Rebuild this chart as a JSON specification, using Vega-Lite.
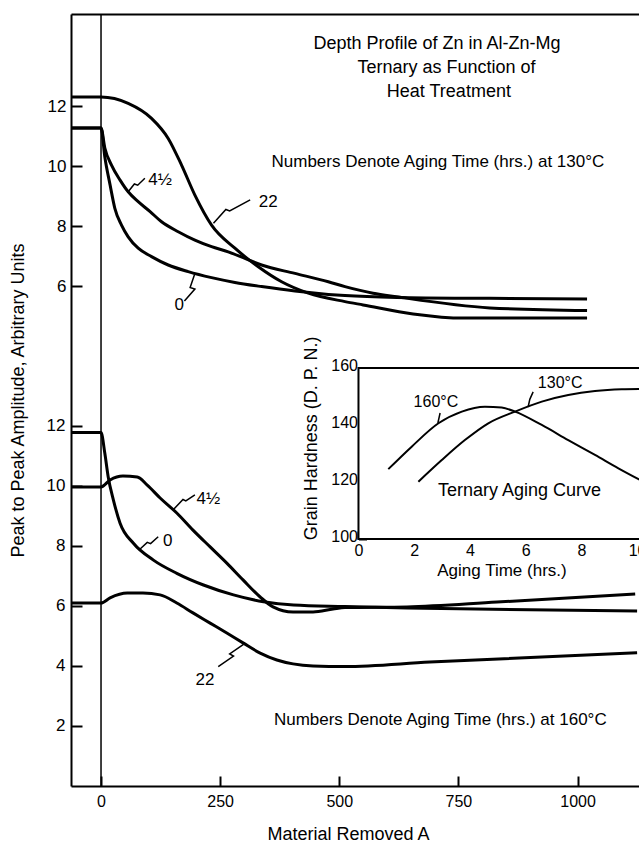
{
  "$schema": "https://vega.github.io/schema/vega-lite/v6.json",
  "width": 568,
  "height": 772,
  "autosize": {"type": "none"},
  "padding": {"left": 71, "top": 14, "right": 0, "bottom": 58},
  "background": "white",
  "config": {
    "font": "Liberation Sans",
    "view": {"stroke": null},
    "axis": {"grid": false, "domainColor": "black", "domainWidth": 2, "tickColor": "black", "tickWidth": 2, "labelColor": "black", "labelFontSize": 16, "titleColor": "black", "titleFontSize": 18, "titleFontWeight": "normal", "labelFlush": false, "labelFont": "Liberation Sans", "titleFont": "Liberation Sans", "format": "d"},
    "text": {"font": "Liberation Sans", "color": "black"}
  },
  "datasets": {
    "lower": [
      {"s": "0", "x": -63, "y": 11.78}, {"s": "0", "x": 0, "y": 11.78}, {"s": "0", "x": 8, "y": 11.09}, {"s": "0", "x": 15, "y": 10.31}, {"s": "0", "x": 26, "y": 9.53}, {"s": "0", "x": 40, "y": 8.76}, {"s": "0", "x": 68, "y": 8.09}, {"s": "0", "x": 110, "y": 7.53}, {"s": "0", "x": 159, "y": 7.09}, {"s": "0", "x": 215, "y": 6.7}, {"s": "0", "x": 278, "y": 6.37}, {"s": "0", "x": 341, "y": 6.14}, {"s": "0", "x": 404, "y": 6.03}, {"s": "0", "x": 512, "y": 5.98}, {"s": "0", "x": 642, "y": 5.93}, {"s": "0", "x": 1125, "y": 5.83},
      {"s": "4.5", "x": -63, "y": 9.97}, {"s": "4.5", "x": 0, "y": 9.97}, {"s": "4.5", "x": 19, "y": 10.2}, {"s": "4.5", "x": 46, "y": 10.33}, {"s": "4.5", "x": 76, "y": 10.3}, {"s": "4.5", "x": 97, "y": 10.03}, {"s": "4.5", "x": 124, "y": 9.6}, {"s": "4.5", "x": 159, "y": 9.1}, {"s": "4.5", "x": 193, "y": 8.53}, {"s": "4.5", "x": 229, "y": 7.97}, {"s": "4.5", "x": 264, "y": 7.43}, {"s": "4.5", "x": 298, "y": 6.87}, {"s": "4.5", "x": 334, "y": 6.3}, {"s": "4.5", "x": 361, "y": 5.97}, {"s": "4.5", "x": 403, "y": 5.8}, {"s": "4.5", "x": 445, "y": 5.8}, {"s": "4.5", "x": 487, "y": 5.9}, {"s": "4.5", "x": 512, "y": 5.95}, {"s": "4.5", "x": 642, "y": 5.97}, {"s": "4.5", "x": 831, "y": 6.13}, {"s": "4.5", "x": 1121, "y": 6.4},
      {"s": "22", "x": -63, "y": 6.1}, {"s": "22", "x": 0, "y": 6.1}, {"s": "22", "x": 19, "y": 6.27}, {"s": "22", "x": 55, "y": 6.43}, {"s": "22", "x": 88, "y": 6.43}, {"s": "22", "x": 124, "y": 6.37}, {"s": "22", "x": 159, "y": 6.1}, {"s": "22", "x": 193, "y": 5.77}, {"s": "22", "x": 229, "y": 5.43}, {"s": "22", "x": 264, "y": 5.1}, {"s": "22", "x": 298, "y": 4.77}, {"s": "22", "x": 334, "y": 4.43}, {"s": "22", "x": 369, "y": 4.2}, {"s": "22", "x": 403, "y": 4.07}, {"s": "22", "x": 445, "y": 4.0}, {"s": "22", "x": 512, "y": 3.98}, {"s": "22", "x": 690, "y": 4.13}, {"s": "22", "x": 1125, "y": 4.44}
    ],
    "upper": [
      {"s": "22", "x": -63, "y": 12.3}, {"s": "22", "x": 0, "y": 12.3}, {"s": "22", "x": 57, "y": 12.09}, {"s": "22", "x": 106, "y": 11.59}, {"s": "22", "x": 141, "y": 10.92}, {"s": "22", "x": 169, "y": 10.03}, {"s": "22", "x": 197, "y": 9.03}, {"s": "22", "x": 232, "y": 8.03}, {"s": "22", "x": 281, "y": 7.26}, {"s": "22", "x": 330, "y": 6.64}, {"s": "22", "x": 379, "y": 6.14}, {"s": "22", "x": 435, "y": 5.76}, {"s": "22", "x": 512, "y": 5.48}, {"s": "22", "x": 550, "y": 5.37}, {"s": "22", "x": 655, "y": 5.07}, {"s": "22", "x": 760, "y": 4.93}, {"s": "22", "x": 1020, "y": 4.93},
      {"s": "4.5", "x": -63, "y": 11.27}, {"s": "4.5", "x": 0, "y": 11.27}, {"s": "4.5", "x": 8, "y": 10.6}, {"s": "4.5", "x": 22, "y": 10.03}, {"s": "4.5", "x": 40, "y": 9.53}, {"s": "4.5", "x": 57, "y": 9.14}, {"s": "4.5", "x": 78, "y": 8.81}, {"s": "4.5", "x": 103, "y": 8.48}, {"s": "4.5", "x": 127, "y": 8.14}, {"s": "4.5", "x": 162, "y": 7.81}, {"s": "4.5", "x": 197, "y": 7.53}, {"s": "4.5", "x": 232, "y": 7.31}, {"s": "4.5", "x": 267, "y": 7.14}, {"s": "4.5", "x": 302, "y": 6.92}, {"s": "4.5", "x": 337, "y": 6.7}, {"s": "4.5", "x": 407, "y": 6.42}, {"s": "4.5", "x": 477, "y": 6.14}, {"s": "4.5", "x": 512, "y": 5.98}, {"s": "4.5", "x": 571, "y": 5.76}, {"s": "4.5", "x": 621, "y": 5.64}, {"s": "4.5", "x": 816, "y": 5.27}, {"s": "4.5", "x": 1020, "y": 5.18},
      {"s": "0", "x": -63, "y": 11.27}, {"s": "0", "x": 0, "y": 11.27}, {"s": "0", "x": 8, "y": 10.3}, {"s": "0", "x": 19, "y": 9.37}, {"s": "0", "x": 29, "y": 8.59}, {"s": "0", "x": 43, "y": 8.03}, {"s": "0", "x": 57, "y": 7.64}, {"s": "0", "x": 78, "y": 7.26}, {"s": "0", "x": 106, "y": 6.98}, {"s": "0", "x": 141, "y": 6.7}, {"s": "0", "x": 183, "y": 6.48}, {"s": "0", "x": 232, "y": 6.28}, {"s": "0", "x": 281, "y": 6.12}, {"s": "0", "x": 337, "y": 5.98}, {"s": "0", "x": 407, "y": 5.83}, {"s": "0", "x": 477, "y": 5.72}, {"s": "0", "x": 512, "y": 5.68}, {"s": "0", "x": 621, "y": 5.62}, {"s": "0", "x": 816, "y": 5.59}, {"s": "0", "x": 1020, "y": 5.57}
    ],
    "inset": [
      {"s": "160", "x": 1.07, "y": 124.5}, {"s": "160", "x": 1.91, "y": 132.4}, {"s": "160", "x": 2.87, "y": 140.6}, {"s": "160", "x": 3.71, "y": 144.7}, {"s": "160", "x": 4.54, "y": 146.4}, {"s": "160", "x": 5.14, "y": 146.1}, {"s": "160", "x": 5.62, "y": 144.7}, {"s": "160", "x": 6.58, "y": 140}, {"s": "160", "x": 7.53, "y": 134.7}, {"s": "160", "x": 8.49, "y": 129.5}, {"s": "160", "x": 9.33, "y": 124.8}, {"s": "160", "x": 10.11, "y": 120.7},
      {"s": "130", "x": 2.15, "y": 120.1}, {"s": "130", "x": 2.99, "y": 127.7}, {"s": "130", "x": 3.82, "y": 134.7}, {"s": "130", "x": 4.66, "y": 140.6}, {"s": "130", "x": 5.62, "y": 144.7}, {"s": "130", "x": 6.58, "y": 148.2}, {"s": "130", "x": 7.53, "y": 150.5}, {"s": "130", "x": 8.49, "y": 151.9}, {"s": "130", "x": 9.45, "y": 152.5}, {"s": "130", "x": 10.11, "y": 152.6}
    ],
    "lowerLeaders": [
      {"id": "L4", "i": 0, "x": 151, "y": 9.2}, {"id": "L4", "i": 1, "x": 172, "y": 9.55}, {"id": "L4", "i": 2, "x": 178, "y": 9.5}, {"id": "L4", "i": 3, "x": 197, "y": 9.7},
      {"id": "L0", "i": 0, "x": 82, "y": 7.9}, {"id": "L0", "i": 1, "x": 97, "y": 8.12}, {"id": "L0", "i": 2, "x": 104, "y": 8.08}, {"id": "L0", "i": 3, "x": 120, "y": 8.31},
      {"id": "L22", "i": 0, "x": 299, "y": 4.72}, {"id": "L22", "i": 1, "x": 270, "y": 4.4}, {"id": "L22", "i": 2, "x": 278, "y": 4.33}, {"id": "L22", "i": 3, "x": 246, "y": 3.98}
    ],
    "upperLeaders": [
      {"id": "U4", "i": 0, "x": 57, "y": 9.14}, {"id": "U4", "i": 1, "x": 70, "y": 9.4}, {"id": "U4", "i": 2, "x": 77, "y": 9.36}, {"id": "U4", "i": 3, "x": 92, "y": 9.59},
      {"id": "U22", "i": 0, "x": 236, "y": 8.09}, {"id": "U22", "i": 1, "x": 262, "y": 8.55}, {"id": "U22", "i": 2, "x": 270, "y": 8.5}, {"id": "U22", "i": 3, "x": 313, "y": 8.87},
      {"id": "U0", "i": 0, "x": 197, "y": 6.42}, {"id": "U0", "i": 1, "x": 187, "y": 5.95}, {"id": "U0", "i": 2, "x": 197, "y": 5.9}, {"id": "U0", "i": 3, "x": 175, "y": 5.5}
    ],
    "insetLeaders": [
      {"id": "I160", "i": 0, "x": 2.85, "y": 140.7}, {"id": "I160", "i": 1, "x": 2.93, "y": 144.2},
      {"id": "I130", "i": 0, "x": 6.09, "y": 146.3}, {"id": "I130", "i": 1, "x": 6.15, "y": 149}, {"id": "I130", "i": 2, "x": 6.27, "y": 151.6}
    ],
    "lowerLabels": [{"x": 225, "y": 9.56, "text": "4½"}, {"x": 140, "y": 8.17, "text": "0"}, {"x": 218, "y": 3.53, "text": "22"}],
    "upperLabels": [{"x": 124, "y": 9.53, "text": "4½"}, {"x": 351, "y": 8.81, "text": "22"}, {"x": 164, "y": 5.37, "text": "0"}],
    "heading": [{"x": 705, "y": 24.57, "text": "Depth Profile of Zn in Al-Zn-Mg"}, {"x": 725, "y": 23.77, "text": "Ternary as Function of"}, {"x": 730, "y": 22.97, "text": "Heat Treatment"}],
    "notes": [{"x": 707, "y": 20.63, "text": "Numbers Denote Aging Time (hrs.) at 130°C"}, {"x": 712, "y": 2.03, "text": "Numbers Denote Aging Time (hrs.) at 160°C"}],
    "insetBox": [{"x": 0, "x2": 10.6, "y": 100, "y2": 160}],
    "insetLabels": [{"x": 5.78, "y": 116.7, "text": "Ternary Aging Curve", "k": "big"}, {"x": 2.78, "y": 148.1, "text": "160°C", "k": "small"}, {"x": 7.24, "y": 154.7, "text": "130°C", "k": "small"}]
  },
  "layer": [
    {
      "data": {"values": [{"x": 0}]},
      "mark": {"type": "rule", "color": "black", "strokeWidth": 1.5},
      "encoding": {"x": {"field": "x", "type": "quantitative", "scale": {"domain": [-63, 1129], "nice": false, "zero": false}, "axis": null}}
    },
    {
      "data": {"name": "lower"},
      "mark": {"type": "line", "color": "black", "strokeWidth": 3, "interpolate": "monotone"},
      "encoding": {
        "x": {"field": "x", "type": "quantitative", "scale": {"domain": [-63, 1129], "nice": false, "zero": false}, "axis": {"orient": "bottom", "values": [0, 250, 500, 750, 1000], "title": "Material Removed  A", "tickSize": -10, "labelPadding": 17, "titlePadding": 16, "titleX": 277}},
        "y": {"field": "y", "type": "quantitative", "scale": {"domain": [0, 25.733], "nice": false, "zero": false}, "axis": {"orient": "left", "values": [2, 4, 6, 8, 10, 12], "title": "Peak to Peak Amplitude, Arbitrary Units", "tickSize": -11, "labelPadding": 17, "titlePadding": 19, "labelFontSize": 17}},
        "detail": {"field": "s", "type": "nominal"}
      }
    },
    {
      "data": {"name": "lowerLeaders"},
      "mark": {"type": "line", "color": "black", "strokeWidth": 1.5},
      "encoding": {
        "x": {"field": "x", "type": "quantitative", "scale": {"domain": [-63, 1129], "nice": false, "zero": false}, "axis": null},
        "y": {"field": "y", "type": "quantitative", "scale": {"domain": [0, 25.733], "nice": false, "zero": false}, "axis": null},
        "detail": {"field": "id", "type": "nominal"},
        "order": {"field": "i", "type": "quantitative"}
      }
    },
    {
      "data": {"name": "lowerLabels"},
      "mark": {"type": "text", "fontSize": 17, "align": "center", "baseline": "middle"},
      "encoding": {
        "x": {"field": "x", "type": "quantitative", "scale": {"domain": [-63, 1129], "nice": false, "zero": false}, "axis": null},
        "y": {"field": "y", "type": "quantitative", "scale": {"domain": [0, 25.733], "nice": false, "zero": false}, "axis": null},
        "text": {"field": "text"}
      }
    },
    {
      "data": {"name": "heading"},
      "mark": {"type": "text", "fontSize": 18, "align": "center", "baseline": "alphabetic"},
      "encoding": {
        "x": {"field": "x", "type": "quantitative", "scale": {"domain": [-63, 1129], "nice": false, "zero": false}, "axis": null},
        "y": {"field": "y", "type": "quantitative", "scale": {"domain": [0, 25.733], "nice": false, "zero": false}, "axis": null},
        "text": {"field": "text"}
      }
    },
    {
      "data": {"name": "notes"},
      "mark": {"type": "text", "fontSize": 17, "align": "center", "baseline": "alphabetic"},
      "encoding": {
        "x": {"field": "x", "type": "quantitative", "scale": {"domain": [-63, 1129], "nice": false, "zero": false}, "axis": null},
        "y": {"field": "y", "type": "quantitative", "scale": {"domain": [0, 25.733], "nice": false, "zero": false}, "axis": null},
        "text": {"field": "text"}
      }
    },
    {
      "data": {"name": "upper"},
      "mark": {"type": "line", "color": "black", "strokeWidth": 3, "interpolate": "monotone"},
      "encoding": {
        "x": {"field": "x", "type": "quantitative", "scale": {"domain": [-63, 1129], "nice": false, "zero": false}, "axis": {"orient": "top", "ticks": false, "labels": false, "title": null}},
        "y": {"field": "y", "type": "quantitative", "scale": {"domain": [-10.667, 15.067], "nice": false, "zero": false}, "axis": {"orient": "left", "values": [6, 8, 10, 12], "title": null, "domain": false, "tickSize": -11, "labelPadding": 16, "labelFontSize": 17}},
        "detail": {"field": "s", "type": "nominal"}
      }
    },
    {
      "data": {"name": "upperLeaders"},
      "mark": {"type": "line", "color": "black", "strokeWidth": 1.5},
      "encoding": {
        "x": {"field": "x", "type": "quantitative", "scale": {"domain": [-63, 1129], "nice": false, "zero": false}, "axis": null},
        "y": {"field": "y", "type": "quantitative", "scale": {"domain": [-10.667, 15.067], "nice": false, "zero": false}, "axis": null},
        "detail": {"field": "id", "type": "nominal"},
        "order": {"field": "i", "type": "quantitative"}
      }
    },
    {
      "data": {"name": "upperLabels"},
      "mark": {"type": "text", "fontSize": 17, "align": "center", "baseline": "middle"},
      "encoding": {
        "x": {"field": "x", "type": "quantitative", "scale": {"domain": [-63, 1129], "nice": false, "zero": false}, "axis": null},
        "y": {"field": "y", "type": "quantitative", "scale": {"domain": [-10.667, 15.067], "nice": false, "zero": false}, "axis": null},
        "text": {"field": "text"}
      }
    },
    {
      "data": {"name": "insetBox"},
      "mark": {"type": "rect", "fill": "white", "stroke": "black", "strokeWidth": 2, "clip": true},
      "encoding": {
        "x": {"field": "x", "type": "quantitative", "scale": {"domain": [-10.32, 10.07], "nice": false, "zero": false}, "axis": {"orient": "bottom", "offset": -247, "values": [0, 2, 4, 6, 8, 10], "domain": false, "tickSize": -8, "labelPadding": 11, "title": "Aging Time (hrs.)", "titleX": 430.5, "titlePadding": 4, "titleFontSize": 17}},
        "x2": {"field": "x2"},
        "y": {"field": "y", "type": "quantitative", "scale": {"domain": [13.33, 284.2], "nice": false, "zero": false}, "axis": {"orient": "left", "offset": -287.5, "values": [100, 120, 140, 160], "domain": false, "tickSize": -8, "labelPadding": 9, "labelOffset": -2, "title": "Grain Hardness (D. P. N.)", "titleY": 424, "titlePadding": 10}},
        "y2": {"field": "y2"}
      }
    },
    {
      "data": {"name": "inset"},
      "mark": {"type": "line", "color": "black", "strokeWidth": 2, "interpolate": "monotone", "clip": true},
      "encoding": {
        "x": {"field": "x", "type": "quantitative", "scale": {"domain": [-10.32, 10.07], "nice": false, "zero": false}, "axis": null},
        "y": {"field": "y", "type": "quantitative", "scale": {"domain": [13.33, 284.2], "nice": false, "zero": false}, "axis": null},
        "detail": {"field": "s", "type": "nominal"}
      }
    },
    {
      "data": {"name": "insetLeaders"},
      "mark": {"type": "line", "color": "black", "strokeWidth": 1.5},
      "encoding": {
        "x": {"field": "x", "type": "quantitative", "scale": {"domain": [-10.32, 10.07], "nice": false, "zero": false}, "axis": null},
        "y": {"field": "y", "type": "quantitative", "scale": {"domain": [13.33, 284.2], "nice": false, "zero": false}, "axis": null},
        "detail": {"field": "id", "type": "nominal"},
        "order": {"field": "i", "type": "quantitative"}
      }
    },
    {
      "data": {"name": "insetLabels"},
      "transform": [{"filter": "datum.k === 'big'"}],
      "mark": {"type": "text", "fontSize": 18, "align": "center", "baseline": "middle"},
      "encoding": {
        "x": {"field": "x", "type": "quantitative", "scale": {"domain": [-10.32, 10.07], "nice": false, "zero": false}, "axis": null},
        "y": {"field": "y", "type": "quantitative", "scale": {"domain": [13.33, 284.2], "nice": false, "zero": false}, "axis": null},
        "text": {"field": "text"}
      }
    },
    {
      "data": {"name": "insetLabels"},
      "transform": [{"filter": "datum.k === 'small'"}],
      "mark": {"type": "text", "fontSize": 16, "align": "center", "baseline": "middle"},
      "encoding": {
        "x": {"field": "x", "type": "quantitative", "scale": {"domain": [-10.32, 10.07], "nice": false, "zero": false}, "axis": null},
        "y": {"field": "y", "type": "quantitative", "scale": {"domain": [13.33, 284.2], "nice": false, "zero": false}, "axis": null},
        "text": {"field": "text"}
      }
    }
  ],
  "resolve": {"scale": {"x": "independent", "y": "independent"}, "axis": {"x": "independent", "y": "independent"}}
}
